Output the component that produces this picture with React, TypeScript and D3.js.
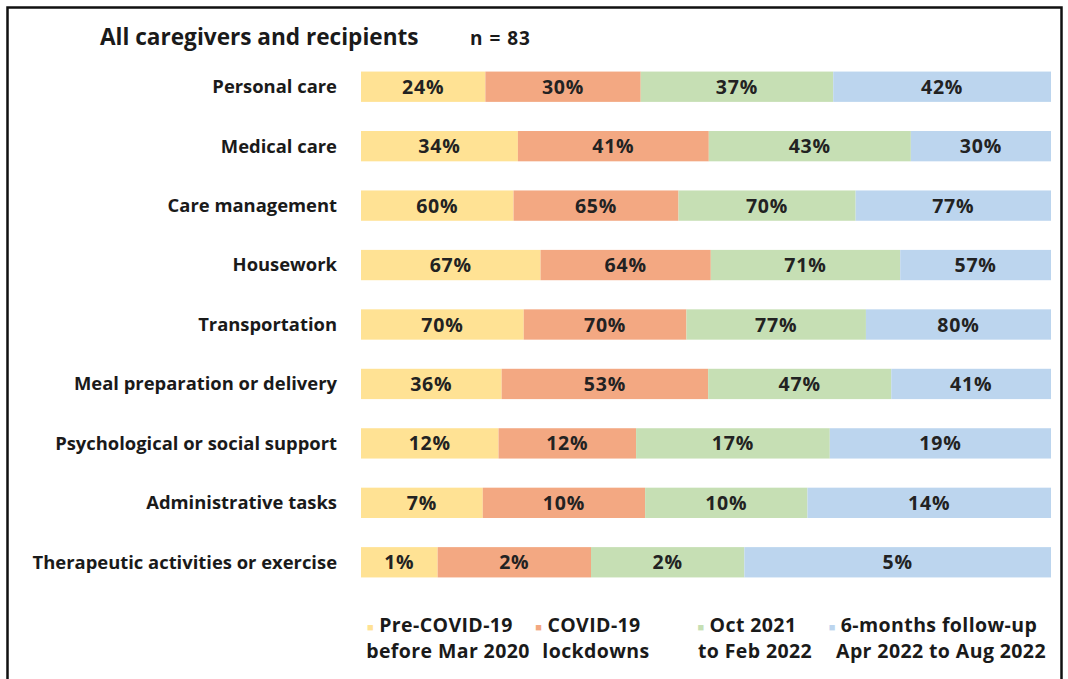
import * as d3 from "d3";

// categories, top to bottom
const categories = [
  "Personal care",
  "Medical care",
  "Care management",
  "Housework",
  "Transportation",
  "Meal preparation or delivery",
  "Psychological or social support",
  "Administrative tasks",
  "Therapeutic activities or exercise",
];

// percent of n = 83, one value per category
const preCovid = [24.1, 33.7, 60.2, 67.4, 69.9, 36.1, 12.0, 7.2, 1.2];
const lockdowns = [30.1, 41.0, 65.1, 63.9, 69.9, 53.0, 12.0, 9.6, 2.4];
const oct2021 = [37.3, 43.4, 69.9, 71.1, 77.1, 47.0, 16.9, 9.6, 2.4];
const followUp = [42.2, 30.1, 77.1, 56.6, 79.5, 41.0, 19.3, 14.4, 4.8];

const seriesNames = ["preCovid", "lockdowns", "oct2021", "followUp"];
const legendLines = [
  ["Pre-COVID-19", "before Mar 2020"],
  ["COVID-19", "lockdowns"],
  ["Oct 2021", "to Feb 2022"],
  ["6-months follow-up", "Apr 2022 to Aug 2022"],
];
const colors = ["#FFE294", "#F3A882", "#C6DFB4", "#BCD5EE"];

const width = 1068;
const height = 679;
const font = "'Open Sans', Lato, sans-serif";
const ink = "#1a1a1a";

const App = () => {
  const rows = categories.map((c, i) => ({
    category: c,
    preCovid: preCovid[i],
    lockdowns: lockdowns[i],
    oct2021: oct2021[i],
    followUp: followUp[i],
  }));

  // each row normalised to 100%
  const stacked = d3.stack<any>().keys(seriesNames).offset(d3.stackOffsetExpand)(rows);

  const x = d3.scaleLinear().domain([0, 1]).range([361, 1051]);
  const y = d3.scaleBand().domain(categories).range([57, 592]).paddingInner(0.49).paddingOuter(0.245);

  const color = d3.scaleOrdinal<string>().domain(seriesNames).range(colors);

  // legend text centers (layout only)
  const legendX = [448, 596, 755, 941];

  return (
    <svg
      width={width}
      height={height}
      viewBox={`0 0 ${width} ${height}`}
      style={{ position: "absolute", left: 0, top: 0, background: "#fff" }}
      fontFamily={font}
    >
      {/* frame */}
      <path d={`M7.5,${height + 5}V7.5H1061.5V${height + 5}`} fill="none" stroke="#111" strokeWidth={2.5} />

      <text x={100} y={45} fontSize={22.6} fontWeight={700} fill={ink}>
        All caregivers and recipients
      </text>
      <text x={470} y={45} fontSize={19} fontWeight={700} fill={ink} letterSpacing={1}>
        n = 83
      </text>

      {/* category labels */}
      {categories.map((c) => (
        <text
          key={c}
          x={337}
          y={(y(c) ?? 0) + y.bandwidth() / 2}
          dy="0.35em"
          textAnchor="end"
          fontSize={18.4}
          fontWeight={700}
          fill={ink}
        >
          {c}
        </text>
      ))}

      {/* bars */}
      {stacked.map((layer) => (
        <g key={layer.key} fill={color(layer.key)}>
          {layer.map((d, i) => {
            const yy = y(categories[i]) ?? 0;
            const x0 = x(d[0]);
            const x1 = x(d[1]);
            const raw = (d.data as any)[layer.key] as number;
            return (
              <g key={i}>
                <rect x={x0} y={yy} width={x1 - x0} height={y.bandwidth()} />
                <text
                  x={(x0 + x1) / 2}
                  y={yy + y.bandwidth() / 2}
                  dy="0.36em"
                  textAnchor="middle"
                  fontSize={19.5}
                  fontWeight={700}
                  letterSpacing={0.8}
                  fill="#222"
                >
                  {Math.round(raw)}%
                </text>
              </g>
            );
          })}
        </g>
      ))}

      {/* legend */}
      {seriesNames.map((s, i) => (
        <g key={s} transform={`translate(${legendX[i]},0)`}>
          <text x={-8} y={632} textAnchor="middle" fontSize={19.5} fontWeight={700} fill={ink} letterSpacing={0.4}>
            <tspan fill={color(s)} fontSize={11} dy={-1}>
              ■
            </tspan>
            <tspan dx={5} dy={1}>
              {legendLines[i][0]}
            </tspan>
          </text>
          <text y={658} textAnchor="middle" fontSize={19.5} fontWeight={700} fill={ink} letterSpacing={0.4}>
            {legendLines[i][1]}
          </text>
        </g>
      ))}
    </svg>
  );
};

export default App;
